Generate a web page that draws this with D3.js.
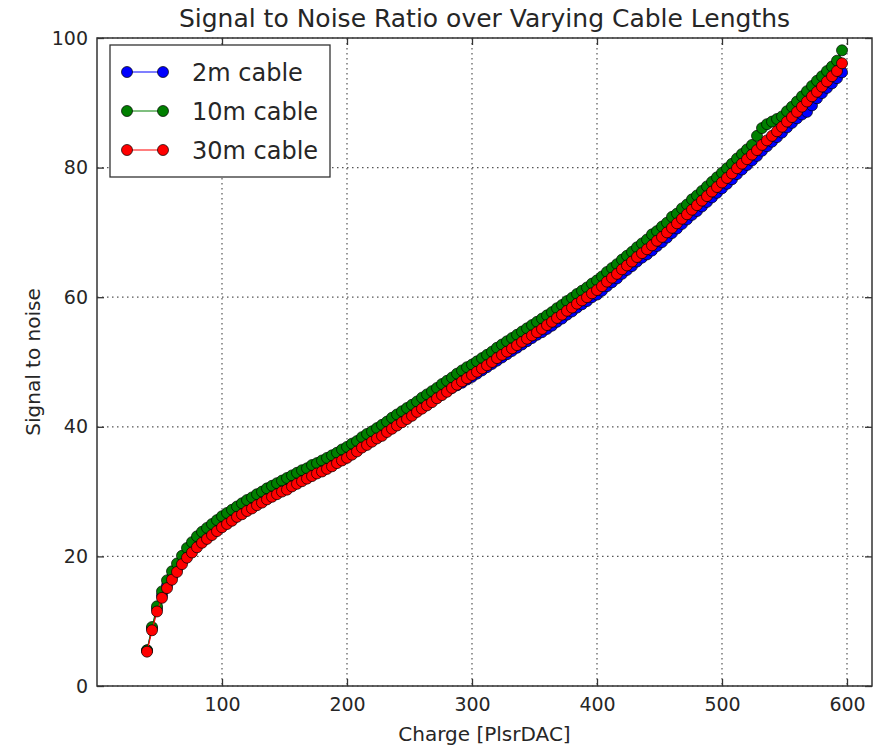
<!DOCTYPE html>
<html>
<head>
<meta charset="utf-8">
<title>Signal to Noise Ratio over Varying Cable Lengths</title>
<script src="https://d3js.org/d3.v7.min.js"></script>
<style>
  body { margin: 0; background: #fff; }
  text { font-family: "DejaVu Sans", sans-serif; fill: #262626; }
  .grid line { stroke: #555; stroke-width: 1.2; stroke-dasharray: 1.5,3.5; }
  .axis line { stroke: #333; stroke-width: 1.3; }
  .axis path { display: none; }
  .axis text { font-size: 19px; }
</style>
</head>
<body>
<script>
// charge steps [PlsrDAC]
var charge = [40, 44, 48, 52, 56, 60, 64, 68, 72, 76,
  80, 84, 88, 92, 96, 100, 104, 108, 112, 116,
  120, 124, 128, 132, 136, 140, 144, 148, 152, 156,
  160, 164, 168, 172, 176, 180, 184, 188, 192, 196,
  200, 204, 208, 212, 216, 220, 224, 228, 232, 236,
  240, 244, 248, 252, 256, 260, 264, 268, 272, 276,
  280, 284, 288, 292, 296, 300, 304, 308, 312, 316,
  320, 324, 328, 332, 336, 340, 344, 348, 352, 356,
  360, 364, 368, 372, 376, 380, 384, 388, 392, 396,
  400, 404, 408, 412, 416, 420, 424, 428, 432, 436,
  440, 444, 448, 452, 456, 460, 464, 468, 472, 476,
  480, 484, 488, 492, 496, 500, 504, 508, 512, 516,
  520, 524, 528, 532, 536, 540, 544, 548, 552, 556,
  560, 564, 568, 572, 576, 580, 584, 588, 592, 596];

var snr2m = [5.5, 8.9, 11.9, 14.0, 15.5, 16.8, 18.0, 19.2, 20.2, 21.0,
  21.9, 22.6, 23.2, 23.8, 24.4, 25.0, 25.5, 26.0, 26.6, 27.0,
  27.6, 28.0, 28.5, 28.9, 29.4, 29.8, 30.2, 30.6, 30.9, 31.4,
  31.8, 32.2, 32.6, 33.0, 33.4, 33.7, 34.1, 34.5, 35.0, 35.4,
  35.7, 36.2, 36.7, 37.3, 37.7, 38.2, 38.7, 39.1, 39.7, 40.2,
  40.6, 41.1, 41.5, 42.0, 42.6, 43.0, 43.5, 44.0, 44.6, 45.0,
  45.5, 46.0, 46.4, 46.8, 47.3, 47.7, 48.2, 48.7, 49.2, 49.7,
  50.2, 50.7, 51.2, 51.7, 52.2, 52.7, 53.2, 53.7, 54.2, 54.6,
  55.1, 55.6, 56.2, 56.7, 57.3, 57.8, 58.4, 58.9, 59.4, 60.0,
  60.4, 61.0, 61.7, 62.3, 62.9, 63.6, 64.2, 64.8, 65.5, 66.1,
  66.6, 67.2, 67.9, 68.5, 69.2, 69.9, 70.6, 71.3, 72.0, 72.7,
  73.3, 74.0, 74.7, 75.4, 76.1, 76.8, 77.5, 78.2, 79.0, 79.7,
  80.4, 81.1, 81.8, 82.6, 83.3, 84.0, 84.7, 85.4, 86.2, 86.9,
  87.6, 88.2, 88.6, 89.6, 90.7, 91.5, 92.3, 93.0, 93.8, 94.7];

var snr10m = [5.5, 9.1, 12.3, 14.6, 16.3, 17.7, 18.9, 20.1, 21.3, 22.2,
  23.1, 23.8, 24.4, 25.0, 25.6, 26.2, 26.7, 27.2, 27.7, 28.2,
  28.7, 29.1, 29.6, 30.0, 30.5, 30.9, 31.3, 31.7, 32.1, 32.5,
  32.9, 33.3, 33.6, 34.1, 34.4, 34.8, 35.2, 35.6, 36.0, 36.5,
  36.9, 37.4, 37.8, 38.4, 38.9, 39.3, 39.8, 40.3, 40.8, 41.4,
  41.9, 42.4, 42.9, 43.4, 43.9, 44.5, 45.0, 45.5, 46.0, 46.6,
  47.1, 47.6, 48.2, 48.7, 49.2, 49.6, 50.1, 50.6, 51.1, 51.6,
  52.2, 52.7, 53.2, 53.7, 54.2, 54.7, 55.2, 55.7, 56.2, 56.7,
  57.2, 57.7, 58.3, 58.8, 59.4, 59.9, 60.5, 61.0, 61.5, 62.1,
  62.6, 63.2, 63.9, 64.5, 65.1, 65.8, 66.4, 67.0, 67.7, 68.3,
  68.9, 69.7, 70.2, 70.9, 71.5, 72.4, 72.9, 73.7, 74.3, 75.1,
  75.7, 76.4, 77.1, 77.8, 78.5, 79.2, 79.9, 80.6, 81.4, 82.1,
  82.8, 83.5, 84.9, 86.1, 86.7, 87.1, 87.5, 87.9, 88.7, 89.4,
  90.2, 91.0, 91.8, 92.6, 93.4, 94.1, 94.9, 95.6, 96.5, 98.1];

var snr30m = [5.3, 8.6, 11.5, 13.6, 15.1, 16.4, 17.6, 18.8, 19.8, 20.6,
  21.4, 22.1, 22.7, 23.3, 23.9, 24.5, 25.0, 25.5, 26.1, 26.5,
  27.0, 27.4, 27.9, 28.3, 28.8, 29.2, 29.6, 30.0, 30.3, 30.8,
  31.2, 31.6, 32.0, 32.4, 32.8, 33.1, 33.5, 33.9, 34.4, 34.8,
  35.2, 35.7, 36.2, 36.8, 37.2, 37.7, 38.2, 38.6, 39.2, 39.7,
  40.2, 40.7, 41.2, 41.7, 42.3, 42.8, 43.3, 43.8, 44.4, 44.9,
  45.4, 46.0, 46.5, 47.0, 47.5, 48.0, 48.5, 49.0, 49.5, 50.0,
  50.6, 51.1, 51.6, 52.1, 52.6, 53.1, 53.6, 54.1, 54.6, 55.1,
  55.7, 56.2, 56.8, 57.3, 57.9, 58.4, 59.0, 59.5, 60.0, 60.6,
  61.1, 61.7, 62.4, 63.0, 63.6, 64.3, 64.9, 65.5, 66.2, 66.8,
  67.4, 68.0, 68.7, 69.3, 70.0, 70.7, 71.4, 72.1, 72.8, 73.5,
  74.2, 74.9, 75.6, 76.3, 77.0, 77.7, 78.4, 79.1, 79.9, 80.6,
  81.3, 82.0, 82.7, 83.5, 84.2, 84.9, 85.6, 86.3, 87.1, 87.8,
  88.6, 89.4, 90.2, 91.0, 91.7, 92.5, 93.3, 94.1, 94.9, 96.1];

var seriesNames = ["2m cable", "10m cable", "30m cable"];
var seriesColors = ["#0000ff", "#008000", "#ff0000"];
var xTicks = [100, 200, 300, 400, 500, 600];
var yTicks = [0, 20, 40, 60, 80, 100];

var margin = {top: 38, right: 3, bottom: 62, left: 97},
  width = 875 - margin.left - margin.right,
  height = 748 - margin.top - margin.bottom;

var svg = d3.select("body")
  .append("svg")
  .attr("width", 875)
  .attr("height", 748);

var g = svg.append("g")
  .attr("transform", "translate(" + margin.left + "," + margin.top + ")");

var x = d3.scaleLinear().domain([0, 620]).range([0, width]);
var y = d3.scaleLinear().domain([0, 100]).range([height, 0]);

// dotted grid
var grid = g.append("g").attr("class", "grid");
grid.selectAll(".gx")
  .data(xTicks)
  .enter().append("line")
  .attr("x1", function (d) { return x(d); })
  .attr("x2", function (d) { return x(d); })
  .attr("y1", 0)
  .attr("y2", height);
grid.selectAll(".gy")
  .data(yTicks)
  .enter().append("line")
  .attr("x1", 0)
  .attr("x2", width)
  .attr("y1", function (d) { return y(d); })
  .attr("y2", function (d) { return y(d); });

// ticks on all four sides, pointing in
g.append("g")
  .attr("class", "axis")
  .attr("transform", "translate(0," + height + ")")
  .call(d3.axisBottom(x).tickValues(xTicks).tickSizeInner(-7).tickSizeOuter(0).tickPadding(12));
g.append("g")
  .attr("class", "axis")
  .call(d3.axisTop(x).tickValues(xTicks).tickSizeInner(-7).tickSizeOuter(0).tickFormat(""));
g.append("g")
  .attr("class", "axis")
  .call(d3.axisLeft(y).tickValues(yTicks).tickSizeInner(-7).tickSizeOuter(0).tickPadding(9));
g.append("g")
  .attr("class", "axis")
  .attr("transform", "translate(" + width + ",0)")
  .call(d3.axisRight(y).tickValues(yTicks).tickSizeInner(-7).tickSizeOuter(0).tickFormat(""));

// series
var series = [snr2m, snr10m, snr30m].map(function (vals, i) {
  return {
    name: seriesNames[i],
    color: seriesColors[i],
    points: charge.map(function (c, j) { return {x: c, y: vals[j]}; })
  };
});

var line = d3.line()
  .x(function (d) { return x(d.x); })
  .y(function (d) { return y(d.y); });

series.forEach(function (s) {
  var sg = g.append("g");
  sg.append("path")
    .datum(s.points)
    .attr("d", line)
    .attr("fill", "none")
    .attr("stroke", s.color)
    .attr("stroke-width", 1.2);
  sg.selectAll("circle")
    .data(s.points)
    .enter().append("circle")
    .attr("cx", function (d) { return x(d.x); })
    .attr("cy", function (d) { return y(d.y); })
    .attr("r", 5.5)
    .attr("fill", s.color)
    .attr("stroke", "#000")
    .attr("stroke-width", 0.7);
});

// frame
g.append("rect")
  .attr("width", width)
  .attr("height", height)
  .attr("fill", "none")
  .attr("stroke", "#333")
  .attr("stroke-width", 1.5);

// legend
var legend = g.append("g").attr("transform", "translate(13,7)");
legend.append("rect")
  .attr("width", 220)
  .attr("height", 132)
  .attr("fill", "#fff")
  .attr("stroke", "#333")
  .attr("stroke-width", 1.3);
series.forEach(function (s, i) {
  var ly = 27 + i * 39;
  var row = legend.append("g").attr("transform", "translate(0," + ly + ")");
  row.append("line")
    .attr("x1", 17).attr("x2", 53)
    .attr("stroke", s.color).attr("stroke-width", 1.2);
  [17, 53].forEach(function (cx) {
    row.append("circle")
      .attr("cx", cx).attr("r", 5.5)
      .attr("fill", s.color)
      .attr("stroke", "#000").attr("stroke-width", 0.7);
  });
  row.append("text")
    .attr("x", 82)
    .attr("y", 9)
    .style("font-size", "24px")
    .text(s.name);
});

// title and axis labels
svg.append("text")
  .attr("x", margin.left + width / 2)
  .attr("y", 27)
  .attr("text-anchor", "middle")
  .style("font-size", "25px")
  .text("Signal to Noise Ratio over Varying Cable Lengths");

svg.append("text")
  .attr("x", margin.left + width / 2)
  .attr("y", 741)
  .attr("text-anchor", "middle")
  .style("font-size", "20px")
  .text("Charge [PlsrDAC]");

svg.append("text")
  .attr("transform", "translate(40," + (margin.top + height / 2) + ") rotate(-90)")
  .attr("text-anchor", "middle")
  .style("font-size", "20px")
  .text("Signal to noise");
</script>
</body>
</html>
